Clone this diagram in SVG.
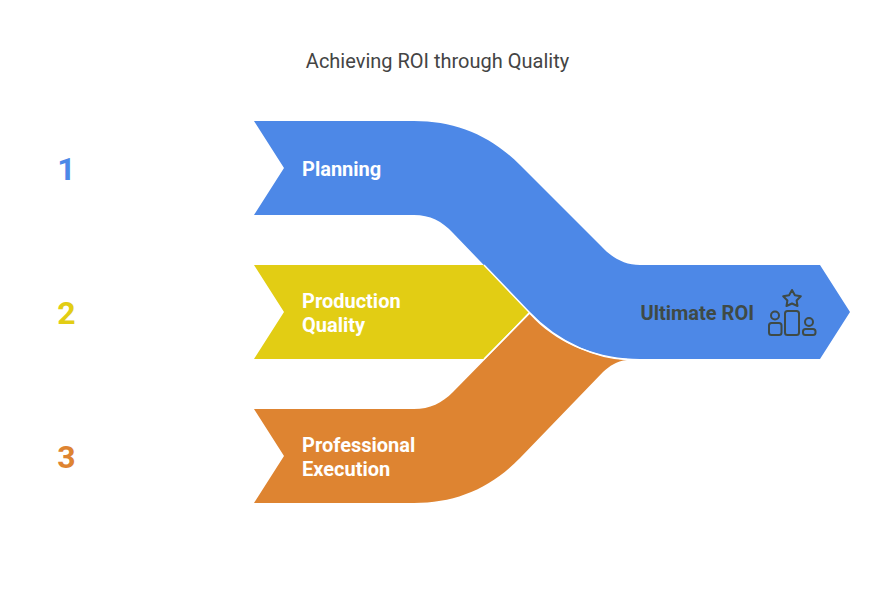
<svg xmlns="http://www.w3.org/2000/svg" width="877" height="600" viewBox="0 0 877 600">
<style>
text{font-family:Roboto,"Liberation Sans",sans-serif}
.t{font-size:20px;font-weight:700;fill:#fff}
.n{font-size:32px;font-weight:700}
.i{fill:none;stroke:#3f4a45;stroke-width:2;stroke-linejoin:round}
</style>
<rect width="877" height="600" fill="#fff"/>
<text x="437.500" y="68" font-size="20" fill="#444" text-anchor="middle">Achieving ROI through Quality</text>
<g id="connectors">
<path id="band-production" fill="#e2cd14" d="M254 265H484L529 312L484 359H254L284 312Z"/>
<path id="band-execution" fill="#de8431" d="M254 409H414C430 409 442 403 453 392L529.500 314C556 343 590 356 627 360C616 361 610 366 603 372L520 458C490 489 455 503 414 503H254L284 456Z"/>
<path id="band-planning" fill="#4d88e7" d="M254 121H414C455 121 490 135 520 165L601 246C612 258 625 265 640 265H820L850 312L820 359H640C600 359 560 345 529 312L453 233C442 221 430 215 414 215H254L284 168Z"/>
<path fill="none" stroke="#fff" stroke-width="1.500" d="M484 265L529 312C560 345 600 359 627 359.500M484 359L529.500 313"/>
</g>
<g id="node-1"><text class="n" x="66.500" y="180" fill="#4d88e7" text-anchor="middle">1</text><text class="t" x="302" y="176">Planning</text></g>
<g id="node-2"><text class="n" x="66.500" y="324" fill="#e2cd14" text-anchor="middle">2</text><text class="t" x="302" y="308">Production</text><text class="t" x="302" y="332">Quality</text></g>
<g id="node-3"><text class="n" x="66.500" y="468" fill="#de8431" text-anchor="middle">3</text><text class="t" x="302" y="452">Professional</text><text class="t" x="302" y="476">Execution</text></g>
<g id="node-roi"><text x="640.500" y="320" font-size="20" font-weight="700" fill="#3f4a45">Ultimate ROI</text>
<path class="i" d="M792 290L794.900 295.300L800.800 296.300L796.600 300.500L797.500 306L792 303.500L786.500 306L787.400 300.500L783.200 296.300L789.100 295.300Z"/>
<circle class="i" cx="775" cy="315.500" r="4"/><rect class="i" x="769" y="323" width="12.500" height="12" rx="2.500"/>
<rect class="i" x="785" y="311" width="14" height="24" rx="2.500"/>
<circle class="i" cx="809" cy="322" r="4"/><rect class="i" x="803" y="329" width="12.500" height="6" rx="2.500"/></g>
</svg>
